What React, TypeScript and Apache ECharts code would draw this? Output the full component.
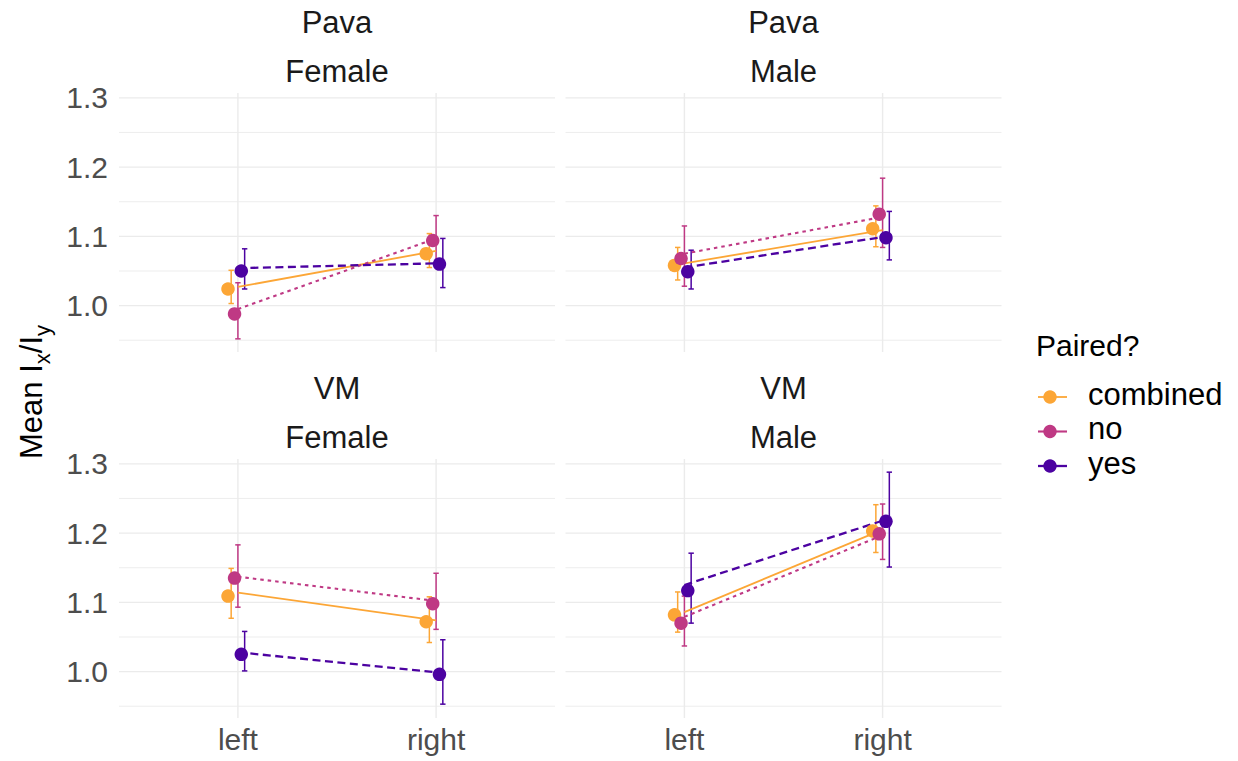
import React, { useEffect, useRef } from "react";
import * as echarts from "echarts";

// ---------- data ----------
const categories = ["left", "right"];
const groups = ["combined", "no", "yes"];
const panelRows = ["Pava", "Pava", "VM", "VM"];
const panelCols = ["Female", "Male", "Female", "Male"];
const yMajorTicks = [1.0, 1.1, 1.2, 1.3];
const yTickLabels = ["1.0", "1.1", "1.2", "1.3"];
const yMinorTicks = [0.95, 1.05, 1.15, 1.25];

// rows: combined, no, yes ; columns: left, right
const pavaFemaleMean = [[1.024, 1.075], [0.988, 1.094], [1.050, 1.060]];
const pavaFemaleLow = [[1.003, 1.055], [0.952, 1.058], [1.024, 1.026]];
const pavaFemaleHigh = [[1.051, 1.104], [1.033, 1.130], [1.082, 1.097]];
const pavaFemaleLine = [[1.027, 1.079], [0.995, 1.097], [1.054, 1.061]];

const pavaMaleMean = [[1.058, 1.111], [1.068, 1.132], [1.049, 1.098]];
const pavaMaleLow = [[1.037, 1.085], [1.028, 1.084], [1.024, 1.066]];
const pavaMaleHigh = [[1.084, 1.144], [1.115, 1.184], [1.080, 1.136]];
const pavaMaleLine = [[1.061, 1.109], [1.075, 1.128], [1.055, 1.099]];

const vmFemaleMean = [[1.109, 1.072], [1.135, 1.098], [1.025, 0.996]];
const vmFemaleLow = [[1.077, 1.042], [1.093, 1.061], [1.001, 0.953]];
const vmFemaleHigh = [[1.149, 1.108], [1.183, 1.142], [1.058, 1.046]];
const vmFemaleLine = [[1.114, 1.074], [1.137, 1.102], [1.028, 0.999]];

const vmMaleMean = [[1.082, 1.203], [1.070, 1.199], [1.117, 1.217]];
const vmMaleLow = [[1.057, 1.172], [1.037, 1.162], [1.070, 1.151]];
const vmMaleHigh = [[1.115, 1.241], [1.109, 1.242], [1.171, 1.288]];
const vmMaleLine = [[1.086, 1.205], [1.079, 1.197], [1.125, 1.218]];

const panelMeans = [pavaFemaleMean, pavaMaleMean, vmFemaleMean, vmMaleMean];
const panelLows = [pavaFemaleLow, pavaMaleLow, vmFemaleLow, vmMaleLow];
const panelHighs = [pavaFemaleHigh, pavaMaleHigh, vmFemaleHigh, vmMaleHigh];
const panelLines = [pavaFemaleLine, pavaMaleLine, vmFemaleLine, vmMaleLine];

// ---------- style / layout ----------
const groupColors = ["#FCA636", "#BF3984", "#4C02A1"];
const groupLineTypes: any[] = ["solid", [3.5, 4], [8, 4.5]];
const groupLineWidths = [1.8, 2.1, 2.3];
const PANEL_LEFT = [119, 565.5];
const PANEL_TOP = [93, 459];
const PANEL_W = 436;
const PANEL_H = 259;
const X_MIN = 0.4;
const X_MAX = 2.6;
const Y_MIN = 0.933;
const Y_MAX = 1.307;
const POINT_DODGE = [-0.05, -0.017, 0.017];
const BAR_DODGE = [-0.034, 0, 0.034];
const FONT = "Liberation Sans, Arial, sans-serif";
const GRID_COLOR = "#EBEBEB";

function buildOption() {
  const grid: any[] = [];
  const xAxis: any[] = [];
  const yAxis: any[] = [];
  const series: any[] = [];
  const graphic: any[] = [];

  for (let p = 0; p < 4; p++) {
    const r = Math.floor(p / 2);
    const c = p % 2;
    grid.push({
      left: PANEL_LEFT[c],
      top: PANEL_TOP[r],
      width: PANEL_W,
      height: PANEL_H,
      containLabel: false,
      outerBoundsMode: "none",
    });
    xAxis.push({ gridIndex: p, type: "value", min: X_MIN, max: X_MAX, show: false });
    yAxis.push({ gridIndex: p, type: "value", min: Y_MIN, max: Y_MAX, show: false });

    // horizontal grid lines + y tick labels
    const hData: any[] = [];
    yMajorTicks.forEach((v, i) => hData.push([1, v, 0, i]));
    yMinorTicks.forEach((v) => hData.push([1, v, 1, -1]));
    series.push({
      type: "custom",
      xAxisIndex: p,
      yAxisIndex: p,
      silent: true,
      z: 1,
      clip: false,
      data: hData,
      renderItem: (params: any, api: any) => {
        const cs = params.coordSys;
        const v = api.value(1);
        const minor = api.value(2) === 1;
        const idx = api.value(3);
        const y = api.coord([1, v])[1];
        const children: any[] = [
          {
            type: "line",
            shape: { x1: cs.x, y1: y, x2: cs.x + cs.width, y2: y },
            style: { stroke: GRID_COLOR, lineWidth: minor ? 0.9 : 1.4 },
          },
        ];
        if (!minor && c === 0) {
          children.push({
            type: "text",
            x: cs.x - 11,
            y: y,
            style: {
              text: yTickLabels[idx],
              fill: "#4D4D4D",
              fontSize: 30,
              fontFamily: FONT,
              align: "right",
              verticalAlign: "middle",
            },
          });
        }
        return { type: "group", children };
      },
    });

    // vertical grid lines + x labels
    series.push({
      type: "custom",
      xAxisIndex: p,
      yAxisIndex: p,
      silent: true,
      z: 1,
      clip: false,
      data: categories.map((_, k) => [k + 1, 1, k]),
      renderItem: (params: any, api: any) => {
        const cs = params.coordSys;
        const k = api.value(2);
        const x = api.coord([api.value(0), 1])[0];
        const children: any[] = [
          {
            type: "line",
            shape: { x1: x, y1: cs.y, x2: x, y2: cs.y + cs.height },
            style: { stroke: GRID_COLOR, lineWidth: 1.4 },
          },
        ];
        if (r === 1) {
          children.push({
            type: "text",
            x: x,
            y: cs.y + cs.height + 21,
            style: {
              text: categories[k],
              fill: "#4D4D4D",
              fontSize: 30,
              fontFamily: FONT,
              align: "center",
              verticalAlign: "middle",
            },
          });
        }
        return { type: "group", children };
      },
    });

    groups.forEach((g, gi) => {
      // error bars
      series.push({
        type: "custom",
        name: g,
        xAxisIndex: p,
        yAxisIndex: p,
        z: 2,
        clip: false,
        data: categories.map((_, k) => [
          k + 1 + BAR_DODGE[gi],
          panelLows[p][gi][k],
          panelHighs[p][gi][k],
        ]),
        renderItem: (params: any, api: any) => {
          const top = api.coord([api.value(0), api.value(2)]);
          const bot = api.coord([api.value(0), api.value(1)]);
          const hw = 2.7;
          const st = { stroke: groupColors[gi], lineWidth: 1.5 };
          return {
            type: "group",
            children: [
              { type: "line", shape: { x1: top[0], y1: top[1], x2: bot[0], y2: bot[1] }, style: st },
              { type: "line", shape: { x1: top[0] - hw, y1: top[1], x2: top[0] + hw, y2: top[1] }, style: st },
              { type: "line", shape: { x1: bot[0] - hw, y1: bot[1], x2: bot[0] + hw, y2: bot[1] }, style: st },
            ],
          };
        },
      });
      // connecting line
      series.push({
        type: "line",
        name: g,
        xAxisIndex: p,
        yAxisIndex: p,
        z: 3,
        symbol: "none",
        showSymbol: false,
        data: categories.map((_, k) => [k + 1, panelLines[p][gi][k]]),
        lineStyle: {
          color: groupColors[gi],
          width: groupLineWidths[gi],
          type: groupLineTypes[gi],
        },
      });
      // points
      series.push({
        type: "scatter",
        name: g,
        xAxisIndex: p,
        yAxisIndex: p,
        z: 4,
        symbol: "circle",
        symbolSize: 13.5,
        itemStyle: { color: groupColors[gi], opacity: 1 },
        data: categories.map((_, k) => [k + 1 + POINT_DODGE[gi], panelMeans[p][gi][k]]),
      });
    });

    // strip labels
    const cx = PANEL_LEFT[c] + PANEL_W / 2;
    graphic.push({
      type: "text",
      x: cx,
      y: PANEL_TOP[r] - 71,
      style: { text: panelRows[p], fill: "#1A1A1A", fontSize: 31, fontFamily: FONT, align: "center", verticalAlign: "middle" },
    });
    graphic.push({
      type: "text",
      x: cx,
      y: PANEL_TOP[r] - 22,
      style: { text: panelCols[p], fill: "#1A1A1A", fontSize: 31, fontFamily: FONT, align: "center", verticalAlign: "middle" },
    });
  }

  // y axis title
  graphic.push({
    type: "text",
    x: 31,
    y: 392,
    rotation: Math.PI / 2,
    style: {
      text: "{m|Mean I}{s|x}{m|/I}{s|y}",
      align: "center",
      verticalAlign: "middle",
      fill: "#000000",
      fontFamily: FONT,
      rich: {
        m: { fontSize: 31, fontFamily: FONT, fill: "#000000", lineHeight: 44, verticalAlign: "middle" },
        s: { fontSize: 22, fontFamily: FONT, fill: "#000000", lineHeight: 22, verticalAlign: "bottom" },
      },
    },
  });

  // legend
  graphic.push({
    type: "text",
    x: 1036,
    y: 345,
    style: { text: "Paired?", fill: "#000000", fontSize: 30, fontFamily: FONT, align: "left", verticalAlign: "middle" },
  });
  groups.forEach((g, gi) => {
    const y = 397 + gi * 34.5;
    graphic.push({
      type: "line",
      shape: { x1: 1038, y1: y, x2: 1067, y2: y },
      style: { stroke: groupColors[gi], lineWidth: groupLineWidths[gi] },
    });
    graphic.push({
      type: "circle",
      shape: { cx: 1050, cy: y, r: 6.7 },
      style: { fill: groupColors[gi] },
    });
    graphic.push({
      type: "text",
      x: 1088,
      y: y - 3,
      style: { text: g, fill: "#000000", fontSize: 31, fontFamily: FONT, align: "left", verticalAlign: "middle" },
    });
  });

  return {
    animation: false,
    backgroundColor: "#FFFFFF",
    grid,
    xAxis,
    yAxis,
    series,
    graphic,
  };
}

export default function App() {
  const ref = useRef<HTMLDivElement>(null);
  useEffect(() => {
    document.body.style.margin = "0";
    if (!ref.current) return;
    const chart = echarts.init(ref.current, undefined, { renderer: "svg" });
    chart.setOption(buildOption() as any);
    return () => {
      chart.dispose();
    };
  }, []);
  return <div ref={ref} style={{ width: 1238, height: 761 }} />;
}
